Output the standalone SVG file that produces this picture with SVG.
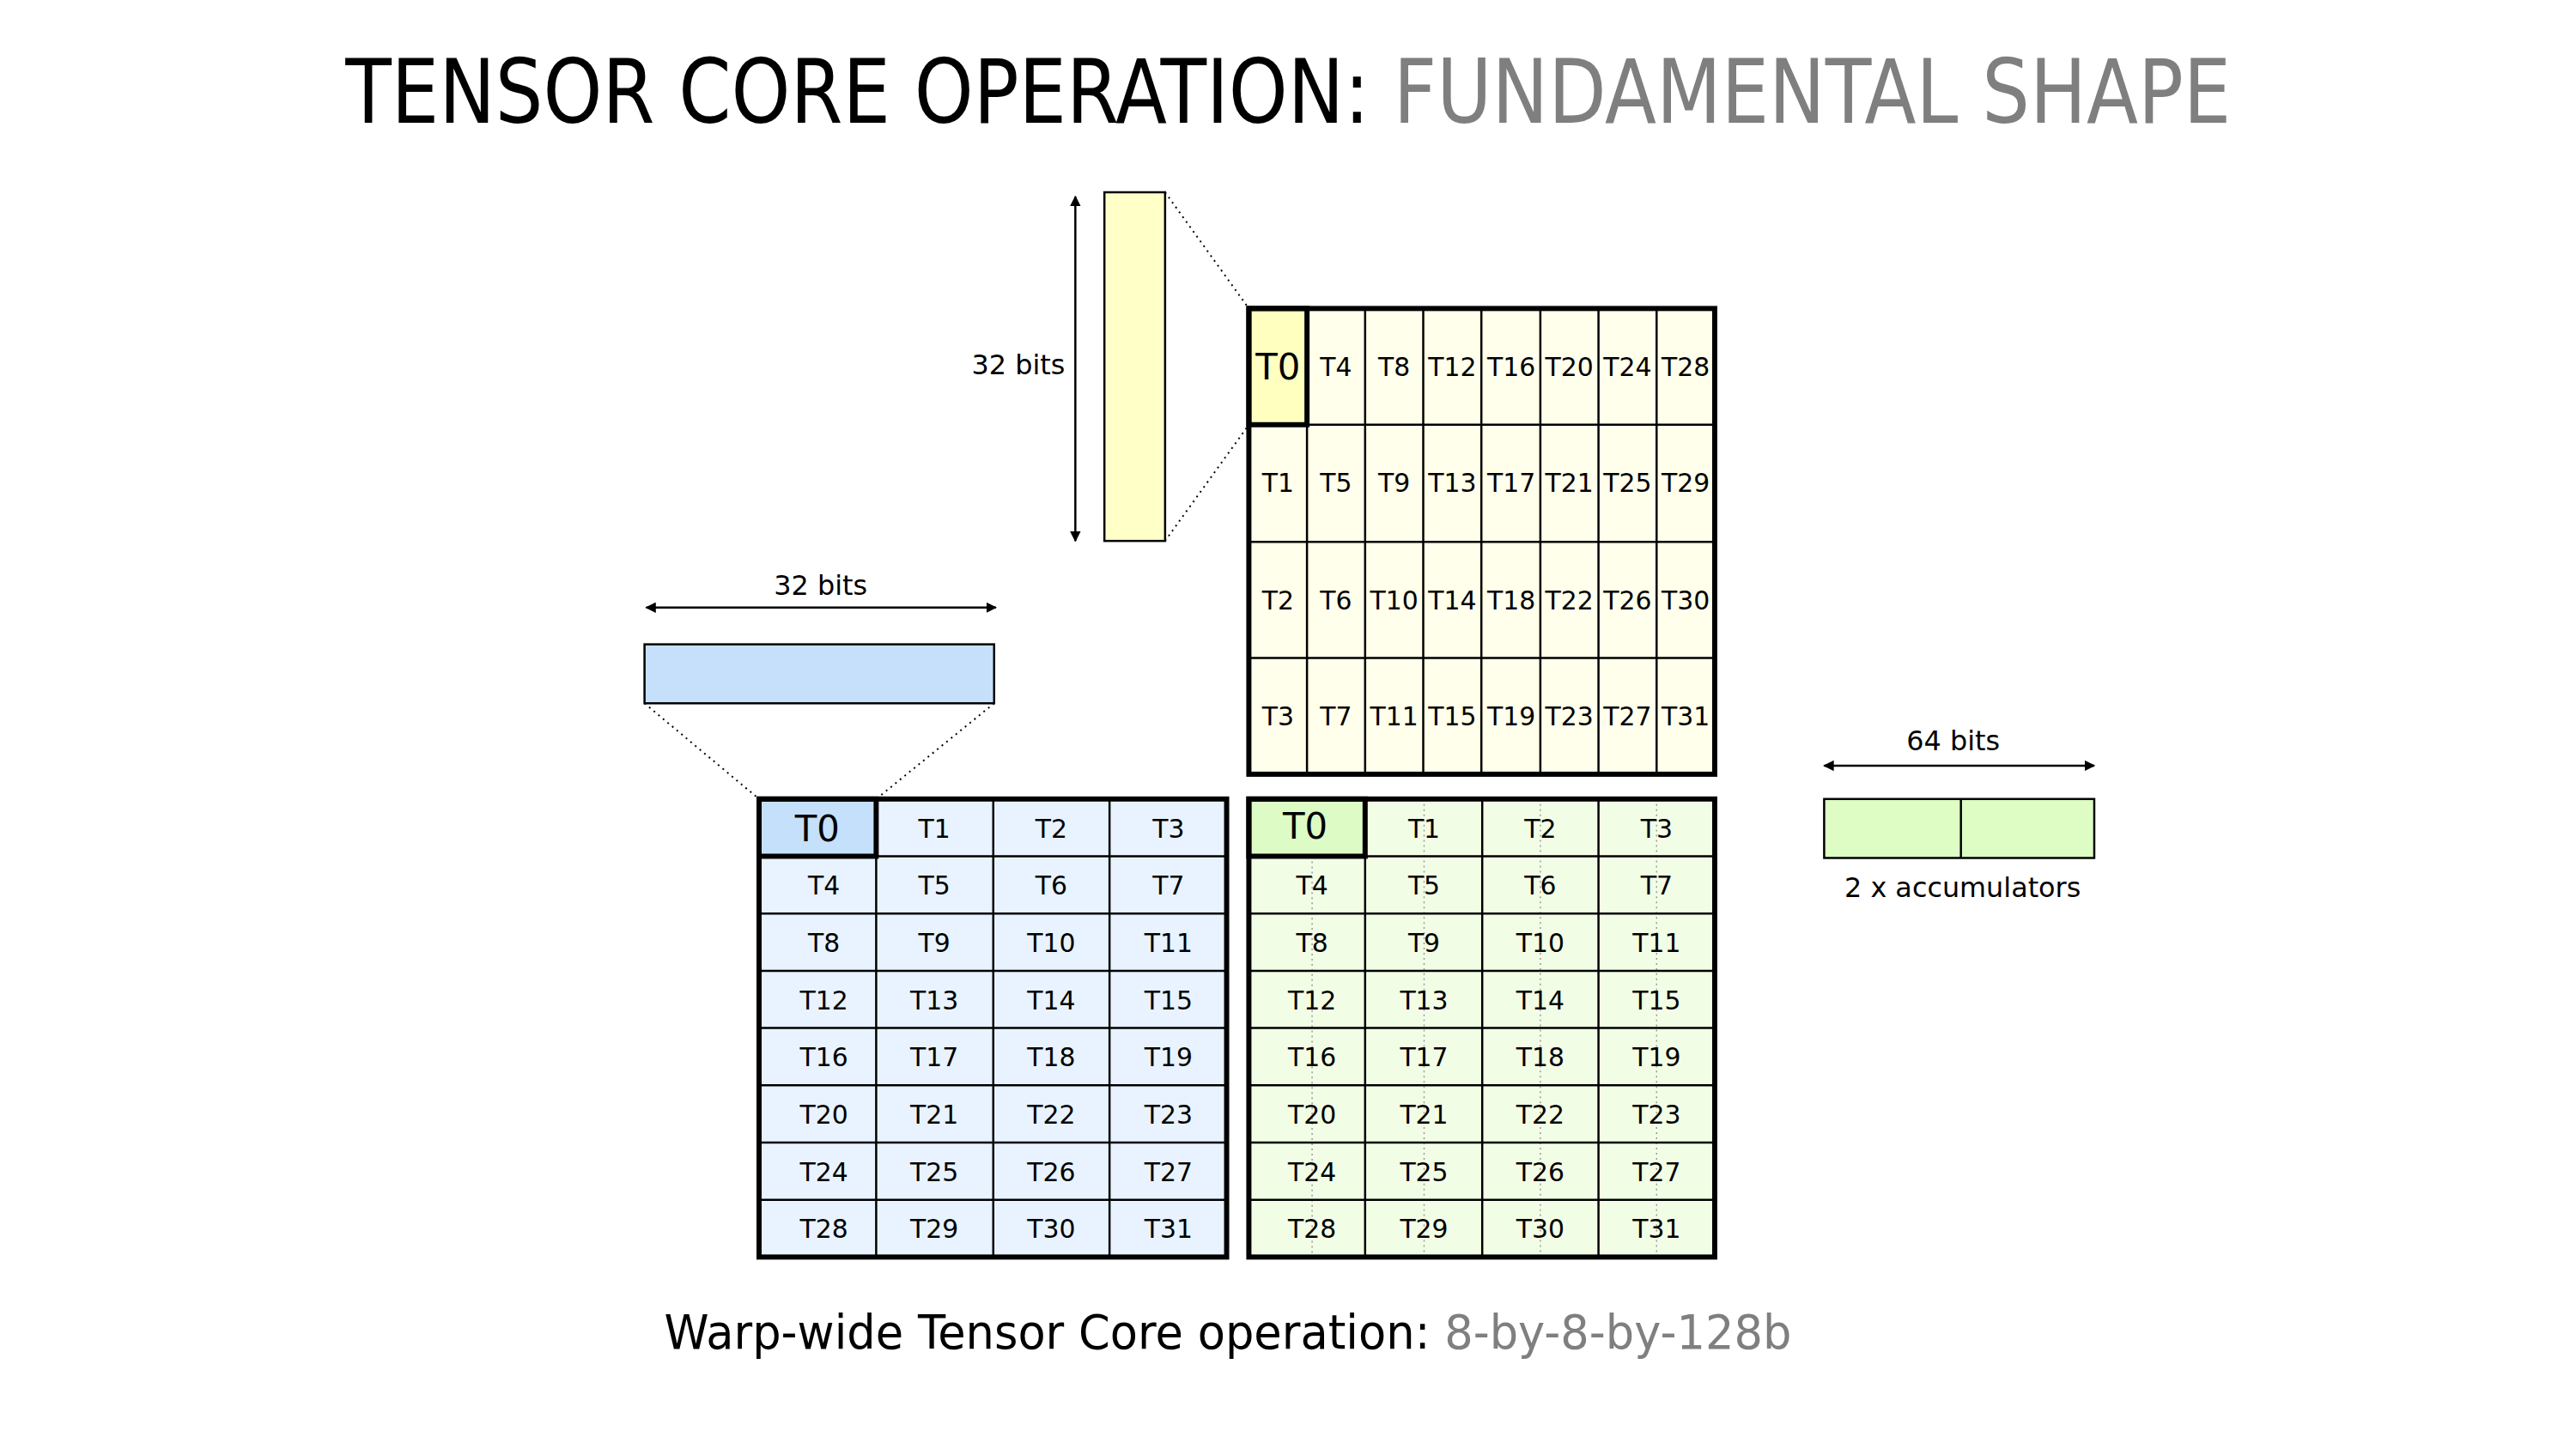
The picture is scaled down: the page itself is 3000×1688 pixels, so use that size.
<svg xmlns="http://www.w3.org/2000/svg" width="3000" height="1688" viewBox="0 0 3000 1688">
<style>
.t{font-family:"DejaVu Sans","Liberation Sans",sans-serif;font-size:30px;text-anchor:middle;fill:#000}
.big{font-size:42px}
.lbl{font-family:"DejaVu Sans","Liberation Sans",sans-serif;font-size:32px;fill:#000}
.in{stroke:#000;stroke-width:2.5;fill:none}
.out{stroke:#000;stroke-width:6;fill:none}
.dot{stroke:#000;stroke-width:2;stroke-dasharray:2 5;fill:none}
.gd{stroke:#999;stroke-width:1.5;stroke-dasharray:2 4;fill:none}
.arr{stroke:#000;stroke-width:2.5;fill:none;marker-start:url(#ah);marker-end:url(#ah)}
</style>
<defs>
<marker id="ah" viewBox="0 0 10 10" refX="9" refY="5" markerWidth="5" markerHeight="5" orient="auto-start-reverse"><path d="M0,0 L10,5 L0,10 z" fill="#000"/></marker>
</defs>
<rect width="3000" height="1688" fill="#fff"/>
<g transform="scale(0.9955)">
<text x="404" y="144" textLength="2206" lengthAdjust="spacingAndGlyphs" style="font-family:'DejaVu Sans Condensed','DejaVu Sans',sans-serif;font-size:104px"><tspan fill="#000">TENSOR CORE OPERATION: </tspan><tspan fill="#7f7f7f">FUNDAMENTAL SHAPE</tspan></text>
<text x="777" y="1578" textLength="1319" lengthAdjust="spacingAndGlyphs" style="font-family:'DejaVu Sans','Liberation Sans',sans-serif;font-size:56px"><tspan fill="#000">Warp-wide Tensor Core operation: </tspan><tspan fill="#7f7f7f">8-by-8-by-128b</tspan></text>

<g id="connectors">
<line class="arr" x1="1258" y1="230" x2="1258" y2="633"/>
<line class="arr" x1="756" y1="711" x2="1165" y2="711"/>
<line class="arr" x1="2134" y1="896" x2="2450" y2="896"/>
<line class="dot" x1="1363" y1="225" x2="1461" y2="361"/>
<line class="dot" x1="1363" y1="633" x2="1461" y2="497"/>
<line class="dot" x1="754" y1="823" x2="888" y2="935"/>
<line class="dot" x1="1163" y1="823" x2="1025" y2="935"/>
</g>

<g id="a-bar">
<rect x="1292" y="225" width="71" height="408" fill="#FFFFC8" stroke="#000" stroke-width="2.5"/>
<text class="lbl" x="1246" y="438" text-anchor="end">32 bits</text>
</g>
<g id="b-bar">
<rect x="754" y="754" width="409" height="69" fill="#C6E0FB" stroke="#000" stroke-width="2.5"/>
<text class="lbl" x="960" y="696" text-anchor="middle">32 bits</text>
</g>
<g id="c-bar">
<rect x="2134" y="935" width="316" height="69" fill="#DDFDC5" stroke="#000" stroke-width="2.5"/>
<line class="in" x1="2294" y1="935" x2="2294" y2="1004"/>
<text class="lbl" x="2285" y="878" text-anchor="middle">64 bits</text>
<text class="lbl" x="2296" y="1050" text-anchor="middle">2 x accumulators</text>
</g>

<g id="yellow-grid">
<rect x="1461" y="361" width="545" height="545" fill="#FFFFEB"/>
<rect x="1461" y="361" width="68" height="136" fill="#FFFFC0"/>
<path class="in" d="M1529,361V906M1597,361V906M1665,361V906M1733,361V906M1802,361V906M1870,361V906M1938,361V906M1461,497H2006M1461,634H2006M1461,770H2006"/>
<rect class="out" x="1461" y="361" width="68" height="136" stroke-width="5"/>
<rect class="out" x="1461" y="361" width="545" height="545"/>
<text class="t big" x="1495" y="444">T0</text><text class="t" x="1563" y="440">T4</text><text class="t" x="1631" y="440">T8</text><text class="t" x="1699" y="440">T12</text><text class="t" x="1768" y="440">T16</text><text class="t" x="1836" y="440">T20</text><text class="t" x="1904" y="440">T24</text><text class="t" x="1972" y="440">T28</text>
<text class="t" x="1495" y="576">T1</text><text class="t" x="1563" y="576">T5</text><text class="t" x="1631" y="576">T9</text><text class="t" x="1699" y="576">T13</text><text class="t" x="1768" y="576">T17</text><text class="t" x="1836" y="576">T21</text><text class="t" x="1904" y="576">T25</text><text class="t" x="1972" y="576">T29</text>
<text class="t" x="1495" y="713">T2</text><text class="t" x="1563" y="713">T6</text><text class="t" x="1631" y="713">T10</text><text class="t" x="1699" y="713">T14</text><text class="t" x="1768" y="713">T18</text><text class="t" x="1836" y="713">T22</text><text class="t" x="1904" y="713">T26</text><text class="t" x="1972" y="713">T30</text>
<text class="t" x="1495" y="849">T3</text><text class="t" x="1563" y="849">T7</text><text class="t" x="1631" y="849">T11</text><text class="t" x="1699" y="849">T15</text><text class="t" x="1768" y="849">T19</text><text class="t" x="1836" y="849">T23</text><text class="t" x="1904" y="849">T27</text><text class="t" x="1972" y="849">T31</text>
</g>

<g id="blue-grid">
<rect x="888" y="935" width="547" height="536" fill="#E8F3FF"/>
<rect x="888" y="935" width="137" height="67" fill="#C5E0FA"/>
<path class="in" d="M1025,935V1471M1162,935V1471M1298,935V1471M888,1002H1435M888,1069H1435M888,1136H1435M888,1203H1435M888,1270H1435M888,1337H1435M888,1404H1435"/>
<rect class="out" x="888" y="935" width="137" height="67" stroke-width="5"/>
<rect class="out" x="888" y="935" width="547" height="536"/>
<text class="t big" x="956" y="984">T0</text><text class="t" x="1093" y="980">T1</text><text class="t" x="1230" y="980">T2</text><text class="t" x="1367" y="980">T3</text>
<text class="t" x="964" y="1047">T4</text><text class="t" x="1093" y="1047">T5</text><text class="t" x="1230" y="1047">T6</text><text class="t" x="1367" y="1047">T7</text>
<text class="t" x="964" y="1114">T8</text><text class="t" x="1093" y="1114">T9</text><text class="t" x="1230" y="1114">T10</text><text class="t" x="1367" y="1114">T11</text>
<text class="t" x="964" y="1181">T12</text><text class="t" x="1093" y="1181">T13</text><text class="t" x="1230" y="1181">T14</text><text class="t" x="1367" y="1181">T15</text>
<text class="t" x="964" y="1248">T16</text><text class="t" x="1093" y="1248">T17</text><text class="t" x="1230" y="1248">T18</text><text class="t" x="1367" y="1248">T19</text>
<text class="t" x="964" y="1315">T20</text><text class="t" x="1093" y="1315">T21</text><text class="t" x="1230" y="1315">T22</text><text class="t" x="1367" y="1315">T23</text>
<text class="t" x="964" y="1382">T24</text><text class="t" x="1093" y="1382">T25</text><text class="t" x="1230" y="1382">T26</text><text class="t" x="1367" y="1382">T27</text>
<text class="t" x="964" y="1449">T28</text><text class="t" x="1093" y="1449">T29</text><text class="t" x="1230" y="1449">T30</text><text class="t" x="1367" y="1449">T31</text>
</g>

<g id="green-grid">
<rect x="1461" y="935" width="545" height="536" fill="#F2FDE6"/>
<rect x="1461" y="935" width="136" height="67" fill="#DDFBC5"/>
<path class="gd" d="M1535,1002V1471M1666,935V1471M1802,935V1471M1938,935V1471"/>
<path class="in" d="M1597,935V1471M1734,935V1471M1870,935V1471M1461,1002H2006M1461,1069H2006M1461,1136H2006M1461,1203H2006M1461,1270H2006M1461,1337H2006M1461,1404H2006"/>
<rect class="out" x="1461" y="935" width="136" height="67" stroke-width="5"/>
<rect class="out" x="1461" y="935" width="545" height="536"/>
<text class="t big" x="1527" y="981">T0</text><text class="t" x="1666" y="980">T1</text><text class="t" x="1802" y="980">T2</text><text class="t" x="1938" y="980">T3</text>
<text class="t" x="1535" y="1047">T4</text><text class="t" x="1666" y="1047">T5</text><text class="t" x="1802" y="1047">T6</text><text class="t" x="1938" y="1047">T7</text>
<text class="t" x="1535" y="1114">T8</text><text class="t" x="1666" y="1114">T9</text><text class="t" x="1802" y="1114">T10</text><text class="t" x="1938" y="1114">T11</text>
<text class="t" x="1535" y="1181">T12</text><text class="t" x="1666" y="1181">T13</text><text class="t" x="1802" y="1181">T14</text><text class="t" x="1938" y="1181">T15</text>
<text class="t" x="1535" y="1248">T16</text><text class="t" x="1666" y="1248">T17</text><text class="t" x="1802" y="1248">T18</text><text class="t" x="1938" y="1248">T19</text>
<text class="t" x="1535" y="1315">T20</text><text class="t" x="1666" y="1315">T21</text><text class="t" x="1802" y="1315">T22</text><text class="t" x="1938" y="1315">T23</text>
<text class="t" x="1535" y="1382">T24</text><text class="t" x="1666" y="1382">T25</text><text class="t" x="1802" y="1382">T26</text><text class="t" x="1938" y="1382">T27</text>
<text class="t" x="1535" y="1449">T28</text><text class="t" x="1666" y="1449">T29</text><text class="t" x="1802" y="1449">T30</text><text class="t" x="1938" y="1449">T31</text>
</g>
</g>
</svg>
